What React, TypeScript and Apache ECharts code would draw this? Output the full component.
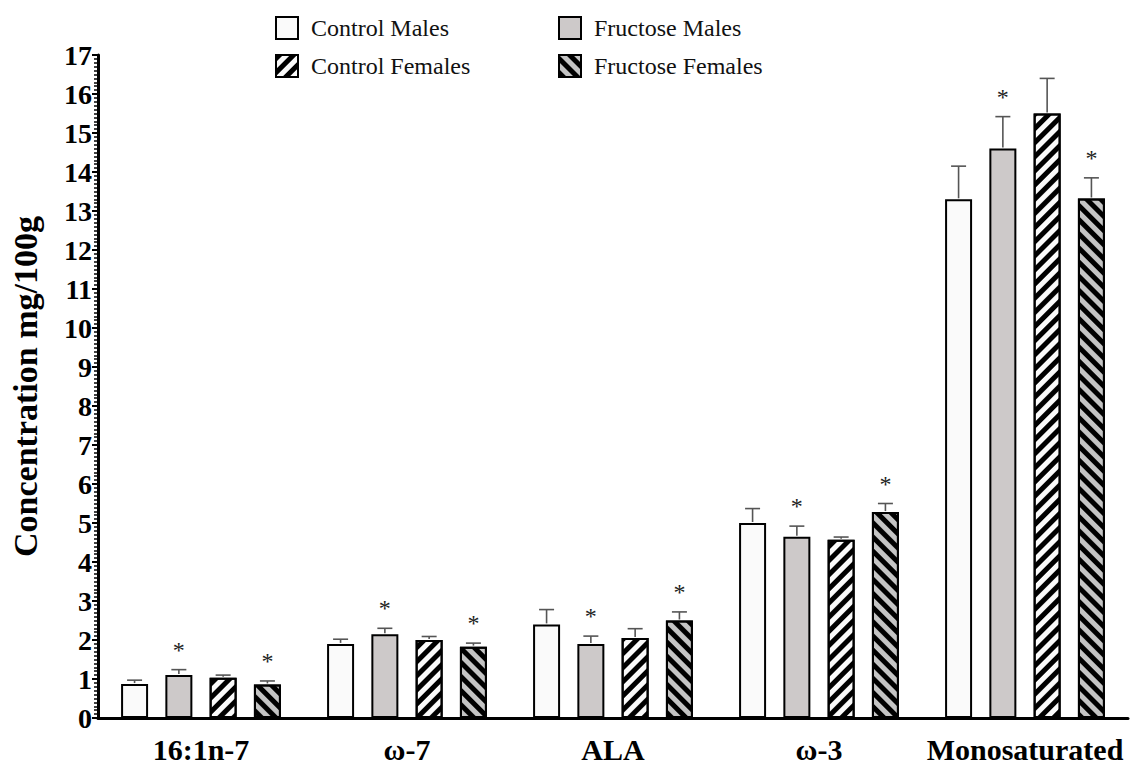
import React, { useEffect, useRef } from "react";
import * as echarts from "echarts";

const categories = ["16:1n-7", "ω-7", "ALA", "ω-3", "Monosaturated"];
const seriesNames = ["Control Males", "Fructose Males", "Control Females", "Fructose Females"];

const controlMales = [0.87, 1.9, 2.4, 5.0, 13.3];
const controlMalesErr = [0.1, 0.12, 0.38, 0.37, 0.85];
const fructoseMales = [1.1, 2.15, 1.9, 4.65, 14.6];
const fructoseMalesErr = [0.14, 0.15, 0.2, 0.27, 0.82];
const controlFemales = [1.03, 2.0, 2.05, 4.57, 15.5];
const controlFemalesErr = [0.07, 0.09, 0.24, 0.07, 0.9];
const fructoseFemales = [0.86, 1.83, 2.5, 5.28, 13.32];
const fructoseFemalesErr = [0.09, 0.09, 0.22, 0.22, 0.53];

const controlMalesStar = [0, 0, 0, 0, 0];
const fructoseMalesStar = [1, 1, 1, 1, 1];
const controlFemalesStar = [0, 0, 0, 0, 0];
const fructoseFemalesStar = [1, 1, 1, 1, 1];

const yTicks = [0, 17, 1];

const SERIF = "'Liberation Serif', 'Times New Roman', serif";
const BAR_W = 27;
const BAR_GAP_PCT = 64;

export default function App() {
  const ref = useRef<HTMLDivElement>(null);

  useEffect(() => {
    if (!ref.current) return;
    const chart = echarts.init(ref.current, null, { renderer: "svg" });

    const values = [controlMales, fructoseMales, controlFemales, fructoseFemales];
    const errs = [controlMalesErr, fructoseMalesErr, controlFemalesErr, fructoseFemalesErr];
    const stars = [controlMalesStar, fructoseMalesStar, controlFemalesStar, fructoseFemalesStar];

    const fills = ["#fafafa", "#cdc9c9", "#fafafa", "#c4c4c4"];
    const decals: any[] = [
      null,
      null,
      { symbol: "rect", dashArrayX: [1, 0], dashArrayY: [4.5, 5], rotation: -Math.PI / 4, color: "#000" },
      { symbol: "rect", dashArrayX: [1, 0], dashArrayY: [4.5, 5], rotation: Math.PI / 4, color: "#000" },
    ];

    const gapPx = (BAR_W * BAR_GAP_PCT) / 100;
    const step = BAR_W + gapPx;
    const offsets = [-1.5, -0.5, 0.5, 1.5].map((k) => k * step);

    const barSeries = seriesNames.map((name, i) => {
      const itemStyle: any = { color: fills[i], borderColor: "#000", borderWidth: 2 };
      if (decals[i]) itemStyle.decal = decals[i];
      return {
        name,
        type: "bar",
        barWidth: BAR_W,
        barGap: BAR_GAP_PCT + "%",
        data: values[i],
        itemStyle,
        z: 2,
      };
    });

    const errSeries = seriesNames.map((name, i) => ({
      name: name + " err",
      type: "custom",
      z: 3,
      data: values[i].map((v, j) => [j, v, errs[i][j], stars[i][j]]),
      encode: { x: 0, y: 1 },
      renderItem: (params: any, api: any) => {
        const c = api.value(0);
        const v = api.value(1);
        const e = api.value(2);
        const s = api.value(3);
        const base = api.coord([c, v]);
        const top = api.coord([c, v + e]);
        const x = base[0] + offsets[i];
        const half = 7.5;
        const children: any[] = [
          {
            type: "line",
            shape: { x1: x, y1: base[1] - 1, x2: x, y2: top[1] },
            style: { stroke: "#555", lineWidth: 1.6 },
          },
          {
            type: "line",
            shape: { x1: x - half, y1: top[1], x2: x + half, y2: top[1] },
            style: { stroke: "#555", lineWidth: 1.6 },
          },
        ];
        if (s) {
          children.push({
            type: "text",
            x: x,
            y: top[1] - 8,
            style: {
              text: "*",
              fontSize: 24,
              fontFamily: SERIF,
              fill: "#222",
              align: "center",
              verticalAlign: "bottom",
            },
          });
        }
        return { type: "group", children };
      },
    }));

    const legendText = { fontSize: 24, fontFamily: SERIF, color: "#111", padding: [0, 0, 0, 8] };
    const legendBase = {
      orient: "vertical",
      top: 16,
      padding: 0,
      icon: "rect",
      itemWidth: 22,
      itemHeight: 22,
      itemGap: 14,
      textStyle: legendText,
      itemStyle: { borderColor: "#000", borderWidth: 2 },
      selectedMode: false,
    };

    chart.setOption({
      animation: false,
      backgroundColor: "#fff",
      textStyle: { fontFamily: SERIF },
      legend: [
        { ...legendBase, data: [seriesNames[0], seriesNames[2]], left: 275 },
        { ...legendBase, data: [seriesNames[1], seriesNames[3]], left: 558 },
      ],
      grid: { left: 98, top: 55, width: 1030, height: 663, containLabel: false },
      xAxis: {
        type: "category",
        data: categories,
        axisLine: { lineStyle: { color: "#000", width: 3 } },
        axisTick: { alignWithLabel: true, length: 6, lineStyle: { color: "#000", width: 3 } },
        axisLabel: {
          fontSize: 30,
          fontWeight: "bold",
          fontFamily: SERIF,
          color: "#000",
          margin: 16,
          interval: 0,
        },
      },
      yAxis: {
        type: "value",
        min: yTicks[0],
        max: yTicks[1],
        interval: yTicks[2],
        name: "Concentration mg/100g",
        nameLocation: "middle",
        nameGap: 56,
        nameTextStyle: { fontSize: 34, fontWeight: "bold", fontFamily: SERIF, color: "#000" },
        axisLine: { show: true, lineStyle: { color: "#000", width: 3 } },
        axisTick: { show: true, length: 6, lineStyle: { color: "#000", width: 2 } },
        minorTick: { show: true, splitNumber: 10, length: 4, lineStyle: { color: "#000", width: 1.5 } },
        splitLine: { show: false },
        axisLabel: {
          fontSize: 28,
          fontWeight: "bold",
          fontFamily: SERIF,
          color: "#000",
          margin: 6,
        },
      },
      series: [...barSeries, ...errSeries],
    });

    return () => chart.dispose();
  }, []);

  return (
    <div
      ref={ref}
      style={{ position: "fixed", left: 0, top: 0, width: 1141, height: 765, background: "#fff" }}
    />
  );
}
